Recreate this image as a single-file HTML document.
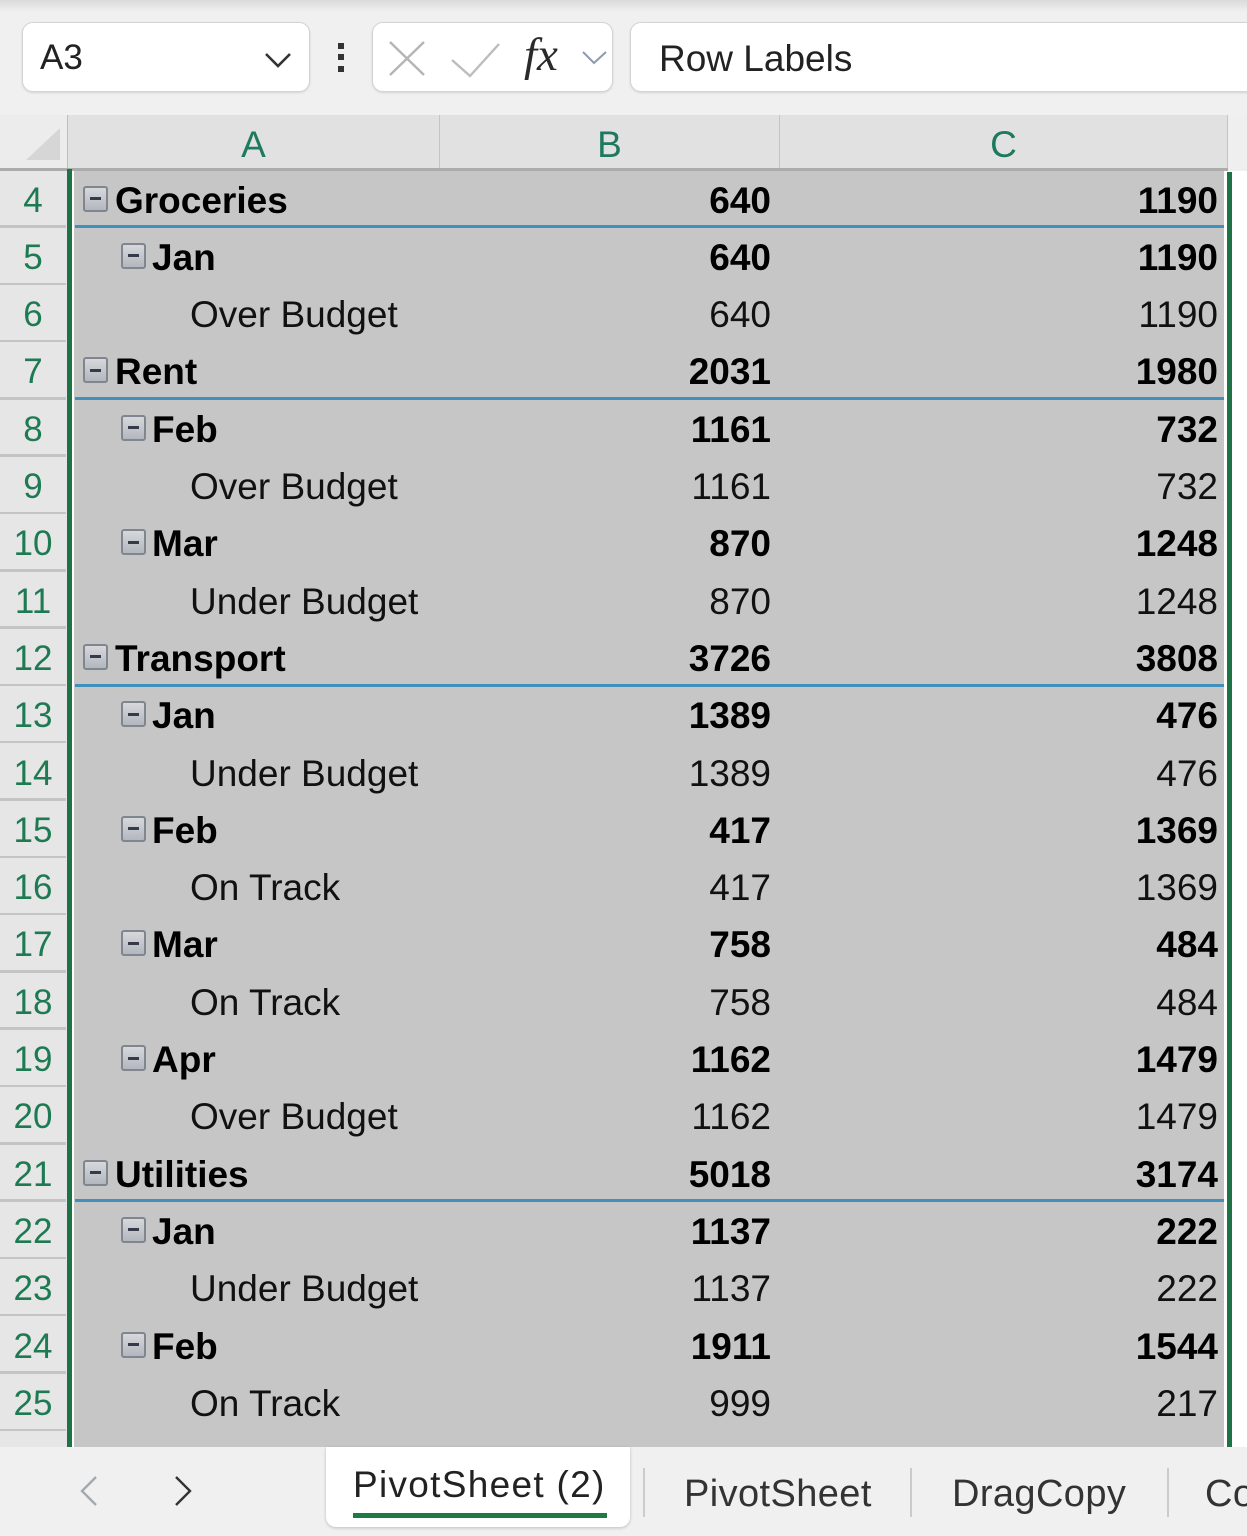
<!DOCTYPE html>
<html><head><meta charset="utf-8">
<style>
*{margin:0;padding:0;box-sizing:border-box}
html,body{width:1247px;height:1536px;overflow:hidden;background:#f0f0f0;font-family:"Liberation Sans",sans-serif}
.abs{position:absolute}
.box{position:absolute;background:#fff;border:1.5px solid #d4d4d4;border-radius:11px;box-shadow:0 1px 2px rgba(0,0,0,.12)}
.r{position:absolute;left:0;width:1247px;height:57.3px}
.n{position:absolute;left:0;width:66px;text-align:center;top:2px;line-height:57.3px;font-size:35px;color:#1e7a52}
.sep{position:absolute;left:0;width:66px;bottom:-1px;height:2.5px;background:#c4c4c4}
.t{position:absolute;top:2px;line-height:57.3px;font-size:37px;color:#111;white-space:nowrap}
.b{font-weight:bold;color:#000}
.vb{right:476px}
.vc{right:29px}
.bl{position:absolute;left:75px;width:1149px;bottom:-1.5px;height:3px;background:#3f90bd}
.ic{position:absolute;width:25px;height:26px;top:16px;border:2px solid #80868f;border-radius:3px;background:linear-gradient(#d6d8dc,#b3b7be)}
.ic:after{content:"";position:absolute;left:5px;top:9.5px;width:11px;height:3px;background:#353b48}
.l0{left:83px}.l1{left:121px}
.tx0{left:115px}.tx1{left:152px}.tx2{left:190px}
.hd{position:absolute;top:115px;height:54px;line-height:54px;padding-top:3px;text-align:center;font-size:37px;color:#1e7a5e;background:#e1e1e1;border-right:1.5px solid #c4c4c4}
.tab{position:absolute;font-size:38px;color:#333;letter-spacing:0.4px;white-space:nowrap}
.tsep{position:absolute;top:1468px;width:2px;height:49px;background:#cbcbcb}
</style></head><body>

<!-- top shadow strip -->
<div class="abs" style="left:0;top:0;width:1247px;height:12px;background:linear-gradient(#dadada,#f0f0f0)"></div>

<!-- name box -->
<div class="box" style="left:22px;top:22px;width:288px;height:70px"></div>
<div class="abs" style="left:40px;top:37px;font-size:35px;line-height:42px;color:#222">A3</div>
<svg class="abs" style="left:262px;top:48px" width="34" height="24"><polyline points="4,6 16,18 28,6" fill="none" stroke="#333" stroke-width="2.6"/></svg>

<!-- vertical dots -->
<div class="abs" style="left:338px;top:43px;width:6px;height:6px;background:#333"></div>
<div class="abs" style="left:338px;top:54px;width:6px;height:6px;background:#333"></div>
<div class="abs" style="left:338px;top:66px;width:6px;height:6px;background:#333"></div>

<!-- fx box -->
<div class="box" style="left:372px;top:22px;width:241px;height:70px"></div>
<svg class="abs" style="left:380px;top:30px" width="230" height="56">
<line x1="10" y1="12" x2="44" y2="45" stroke="#b5b5b5" stroke-width="2.4"/>
<line x1="44" y1="12" x2="10" y2="45" stroke="#b5b5b5" stroke-width="2.4"/>
<polyline points="72,30 90,46 119,14" fill="none" stroke="#bcbcbc" stroke-width="2.4"/>
<polyline points="203,22 214,33 226,22" fill="none" stroke="#8c9aae" stroke-width="2"/>
</svg>
<div class="abs" style="left:524px;top:29px;font-family:'Liberation Serif',serif;font-style:italic;font-size:47px;line-height:52px;color:#2a2a2a">fx</div>

<!-- formula box -->
<div class="box" style="left:630px;top:22px;width:640px;height:70px"></div>
<div class="abs" style="left:659px;top:37px;font-size:37px;line-height:44px;color:#222">Row Labels</div>

<!-- headers -->
<div class="abs" style="left:0;top:115px;width:68px;height:55px;background:#ececec;border-right:1.5px solid #bdbdbd"></div>
<svg class="abs" style="left:24px;top:126px" width="40" height="38"><polygon points="36,2 36,34 2,34" fill="#d6d6d6"/></svg>
<div class="hd" style="left:68px;width:372px">A</div>
<div class="hd" style="left:440px;width:340px">B</div>
<div class="hd" style="left:780px;width:448px">C</div>
<div class="abs" style="left:1228px;top:115px;width:19px;height:55px;background:#efefef"></div>
<div class="abs" style="left:0;top:168px;width:1228px;height:3px;background:#acacac"></div>

<!-- row header column bg -->
<div class="abs" style="left:0;top:171px;width:67px;height:1276px;background:#e6e6e6"></div>
<!-- grid white bg -->
<div class="abs" style="left:67px;top:171px;width:1180px;height:1276px;background:#fff"></div>
<!-- selection gray -->
<div class="abs" style="left:74px;top:171px;width:1150px;height:1276px;background:#c6c6c6"></div>
<!-- green lines -->
<div class="abs" style="left:67px;top:169px;width:5px;height:1278px;background:#1f7246"></div>
<div class="abs" style="left:1227px;top:172px;width:5px;height:1275px;background:#1f7246"></div>

<!-- rows -->
<div class="r" style="top:169.5px"><span class="n">4</span><i class="sep"></i><i class="ic l0"></i><span class="t b tx0">Groceries</span><span class="t b vb">640</span><span class="t b vc">1190</span><i class="bl"></i></div>
<div class="r" style="top:226.8px"><span class="n">5</span><i class="sep"></i><i class="ic l1"></i><span class="t b tx1">Jan</span><span class="t b vb">640</span><span class="t b vc">1190</span></div>
<div class="r" style="top:284.1px"><span class="n">6</span><i class="sep"></i><span class="t tx2">Over Budget</span><span class="t vb">640</span><span class="t vc">1190</span></div>
<div class="r" style="top:341.4px"><span class="n">7</span><i class="sep"></i><i class="ic l0"></i><span class="t b tx0">Rent</span><span class="t b vb">2031</span><span class="t b vc">1980</span><i class="bl"></i></div>
<div class="r" style="top:398.7px"><span class="n">8</span><i class="sep"></i><i class="ic l1"></i><span class="t b tx1">Feb</span><span class="t b vb">1161</span><span class="t b vc">732</span></div>
<div class="r" style="top:456.0px"><span class="n">9</span><i class="sep"></i><span class="t tx2">Over Budget</span><span class="t vb">1161</span><span class="t vc">732</span></div>
<div class="r" style="top:513.3px"><span class="n">10</span><i class="sep"></i><i class="ic l1"></i><span class="t b tx1">Mar</span><span class="t b vb">870</span><span class="t b vc">1248</span></div>
<div class="r" style="top:570.6px"><span class="n">11</span><i class="sep"></i><span class="t tx2">Under Budget</span><span class="t vb">870</span><span class="t vc">1248</span></div>
<div class="r" style="top:627.9px"><span class="n">12</span><i class="sep"></i><i class="ic l0"></i><span class="t b tx0">Transport</span><span class="t b vb">3726</span><span class="t b vc">3808</span><i class="bl"></i></div>
<div class="r" style="top:685.2px"><span class="n">13</span><i class="sep"></i><i class="ic l1"></i><span class="t b tx1">Jan</span><span class="t b vb">1389</span><span class="t b vc">476</span></div>
<div class="r" style="top:742.5px"><span class="n">14</span><i class="sep"></i><span class="t tx2">Under Budget</span><span class="t vb">1389</span><span class="t vc">476</span></div>
<div class="r" style="top:799.8px"><span class="n">15</span><i class="sep"></i><i class="ic l1"></i><span class="t b tx1">Feb</span><span class="t b vb">417</span><span class="t b vc">1369</span></div>
<div class="r" style="top:857.1px"><span class="n">16</span><i class="sep"></i><span class="t tx2">On Track</span><span class="t vb">417</span><span class="t vc">1369</span></div>
<div class="r" style="top:914.4px"><span class="n">17</span><i class="sep"></i><i class="ic l1"></i><span class="t b tx1">Mar</span><span class="t b vb">758</span><span class="t b vc">484</span></div>
<div class="r" style="top:971.7px"><span class="n">18</span><i class="sep"></i><span class="t tx2">On Track</span><span class="t vb">758</span><span class="t vc">484</span></div>
<div class="r" style="top:1029.0px"><span class="n">19</span><i class="sep"></i><i class="ic l1"></i><span class="t b tx1">Apr</span><span class="t b vb">1162</span><span class="t b vc">1479</span></div>
<div class="r" style="top:1086.3px"><span class="n">20</span><i class="sep"></i><span class="t tx2">Over Budget</span><span class="t vb">1162</span><span class="t vc">1479</span></div>
<div class="r" style="top:1143.6px"><span class="n">21</span><i class="sep"></i><i class="ic l0"></i><span class="t b tx0">Utilities</span><span class="t b vb">5018</span><span class="t b vc">3174</span><i class="bl"></i></div>
<div class="r" style="top:1200.9px"><span class="n">22</span><i class="sep"></i><i class="ic l1"></i><span class="t b tx1">Jan</span><span class="t b vb">1137</span><span class="t b vc">222</span></div>
<div class="r" style="top:1258.2px"><span class="n">23</span><i class="sep"></i><span class="t tx2">Under Budget</span><span class="t vb">1137</span><span class="t vc">222</span></div>
<div class="r" style="top:1315.5px"><span class="n">24</span><i class="sep"></i><i class="ic l1"></i><span class="t b tx1">Feb</span><span class="t b vb">1911</span><span class="t b vc">1544</span></div>
<div class="r" style="top:1372.8px"><span class="n">25</span><i class="sep"></i><span class="t tx2">On Track</span><span class="t vb">999</span><span class="t vc">217</span></div>

<!-- tab bar -->
<div class="abs" style="left:0;top:1447px;width:1247px;height:89px;background:#f0f0f0"></div>
<svg class="abs" style="left:70px;top:1472px" width="130" height="40">
<polyline points="26,5 12,19 26,33" fill="none" stroke="#a4a8b0" stroke-width="2.4"/>
<polyline points="106,5 120,19 106,33" fill="none" stroke="#333" stroke-width="2.4"/>
</svg>
<div class="abs" style="left:326px;top:1447px;width:304px;height:80px;background:#fff;border-radius:0 0 10px 10px;box-shadow:0 1px 3px rgba(0,0,0,.22)"></div>
<div class="tab" style="left:353px;top:1464px;line-height:42px;font-size:37px;letter-spacing:1.3px;color:#222">PivotSheet (2)</div>
<div class="abs" style="left:353px;top:1513px;width:254px;height:5px;background:#1e7a45"></div>
<div class="tsep" style="left:643px"></div>
<div class="tab" style="left:684px;top:1472px;line-height:44px">PivotSheet</div>
<div class="tsep" style="left:910px"></div>
<div class="tab" style="left:952px;top:1472px;line-height:44px">DragCopy</div>
<div class="tsep" style="left:1167px"></div>
<div class="tab" style="left:1205px;top:1472px;line-height:44px">Co</div>

</body></html>
